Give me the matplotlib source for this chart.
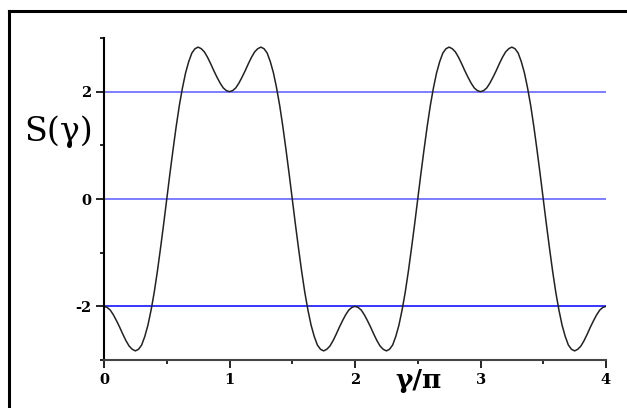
import matplotlib
matplotlib.use("Agg")
import matplotlib.pyplot as plt
from matplotlib.lines import Line2D
import numpy as np

plt.rcParams['axes.unicode_minus'] = False

# gamma/pi sample positions (step 0.025) and S(gamma)
gamma = np.round(np.arange(161) * 0.025, 3)
S = [-2.00, -2.02, -2.07, -2.16, -2.27, -2.39, -2.52, -2.64, -2.74, -2.80,
     -2.83, -2.80, -2.72, -2.56, -2.35, -2.07, -1.74, -1.35, -0.92, -0.47,
     0.00, 0.47, 0.92, 1.35, 1.74, 2.07, 2.35, 2.56, 2.72, 2.80,
     2.83, 2.80, 2.74, 2.64, 2.52, 2.39, 2.27, 2.16, 2.07, 2.02,
     2.00, 2.02, 2.07, 2.16, 2.27, 2.39, 2.52, 2.64, 2.74, 2.80,
     2.83, 2.80, 2.72, 2.56, 2.35, 2.07, 1.74, 1.35, 0.92, 0.47,
     0.00, -0.47, -0.92, -1.35, -1.74, -2.07, -2.35, -2.56, -2.72, -2.80,
     -2.83, -2.80, -2.74, -2.64, -2.52, -2.39, -2.27, -2.16, -2.07, -2.02,
     -2.00, -2.02, -2.07, -2.16, -2.27, -2.39, -2.52, -2.64, -2.74, -2.80,
     -2.83, -2.80, -2.72, -2.56, -2.35, -2.07, -1.74, -1.35, -0.92, -0.47,
     0.00, 0.47, 0.92, 1.35, 1.74, 2.07, 2.35, 2.56, 2.72, 2.80,
     2.83, 2.80, 2.74, 2.64, 2.52, 2.39, 2.27, 2.16, 2.07, 2.02,
     2.00, 2.02, 2.07, 2.16, 2.27, 2.39, 2.52, 2.64, 2.74, 2.80,
     2.83, 2.80, 2.72, 2.56, 2.35, 2.07, 1.74, 1.35, 0.92, 0.47,
     0.00, -0.47, -0.92, -1.35, -1.74, -2.07, -2.35, -2.56, -2.72, -2.80,
     -2.83, -2.80, -2.74, -2.64, -2.52, -2.39, -2.27, -2.16, -2.07, -2.02,
     -2.00]
ref_levels = [2, 0, -2]
ref_colors = ['#5a5aff', '#5a5aff', '#0000ff']
xticks = [0, 1, 2, 3, 4]
yticks = [-2, 0, 2]

fig = plt.figure(figsize=(6.27, 4.08), dpi=100)
ax = fig.add_axes([0.1659, 0.1176, 0.8006, 0.7893])

for lev, c in zip(ref_levels, ref_colors):
    ax.axhline(lev, color=c, lw=1.1, zorder=1)
ax.plot(gamma, S, color='#222222', lw=1.1, zorder=2)

ax.set_xlim(0, 4)
ax.set_ylim(-3, 3)
ax.set_xticks(xticks)
ax.set_xticks([0.5, 1.5, 2.5, 3.5], minor=True)
ax.set_yticks(yticks)
ax.set_yticks([-3, -1, 1, 3], minor=True)
ax.tick_params(which='major', direction='out', length=6, width=1.2, pad=3)
ax.tick_params(which='minor', direction='out', length=3, width=1.2)
for lab in ax.get_xticklabels() + ax.get_yticklabels():
    lab.set_fontfamily('DejaVu Serif')
    lab.set_fontweight('bold')
    lab.set_fontsize(10.5)

for s in ['top', 'right']:
    ax.spines[s].set_visible(False)
ax.spines['left'].set_linewidth(1.5)
ax.spines['bottom'].set_linewidth(1.5)
ax.spines['bottom'].set_color('#444444')

ax.set_ylabel('S(γ)', family='DejaVu Serif', fontsize=24, rotation=0,
              ha='center', va='center')
ax.yaxis.set_label_coords(-0.09, 0.708)
ax.set_xlabel('γ/π', family='DejaVu Serif', fontweight='bold', fontsize=19,
              ha='center', va='center')
ax.xaxis.set_label_coords(0.626, -0.065)

# partial frame around the figure
fig.add_artist(Line2D([0.0136, 0.0136], [0.0, 0.973], color='black', lw=2.2,
                      transform=fig.transFigure))
fig.add_artist(Line2D([0.0136, 1.0], [0.973, 0.973], color='black', lw=2.2,
                      transform=fig.transFigure))

fig.savefig('out.png', dpi=100)
